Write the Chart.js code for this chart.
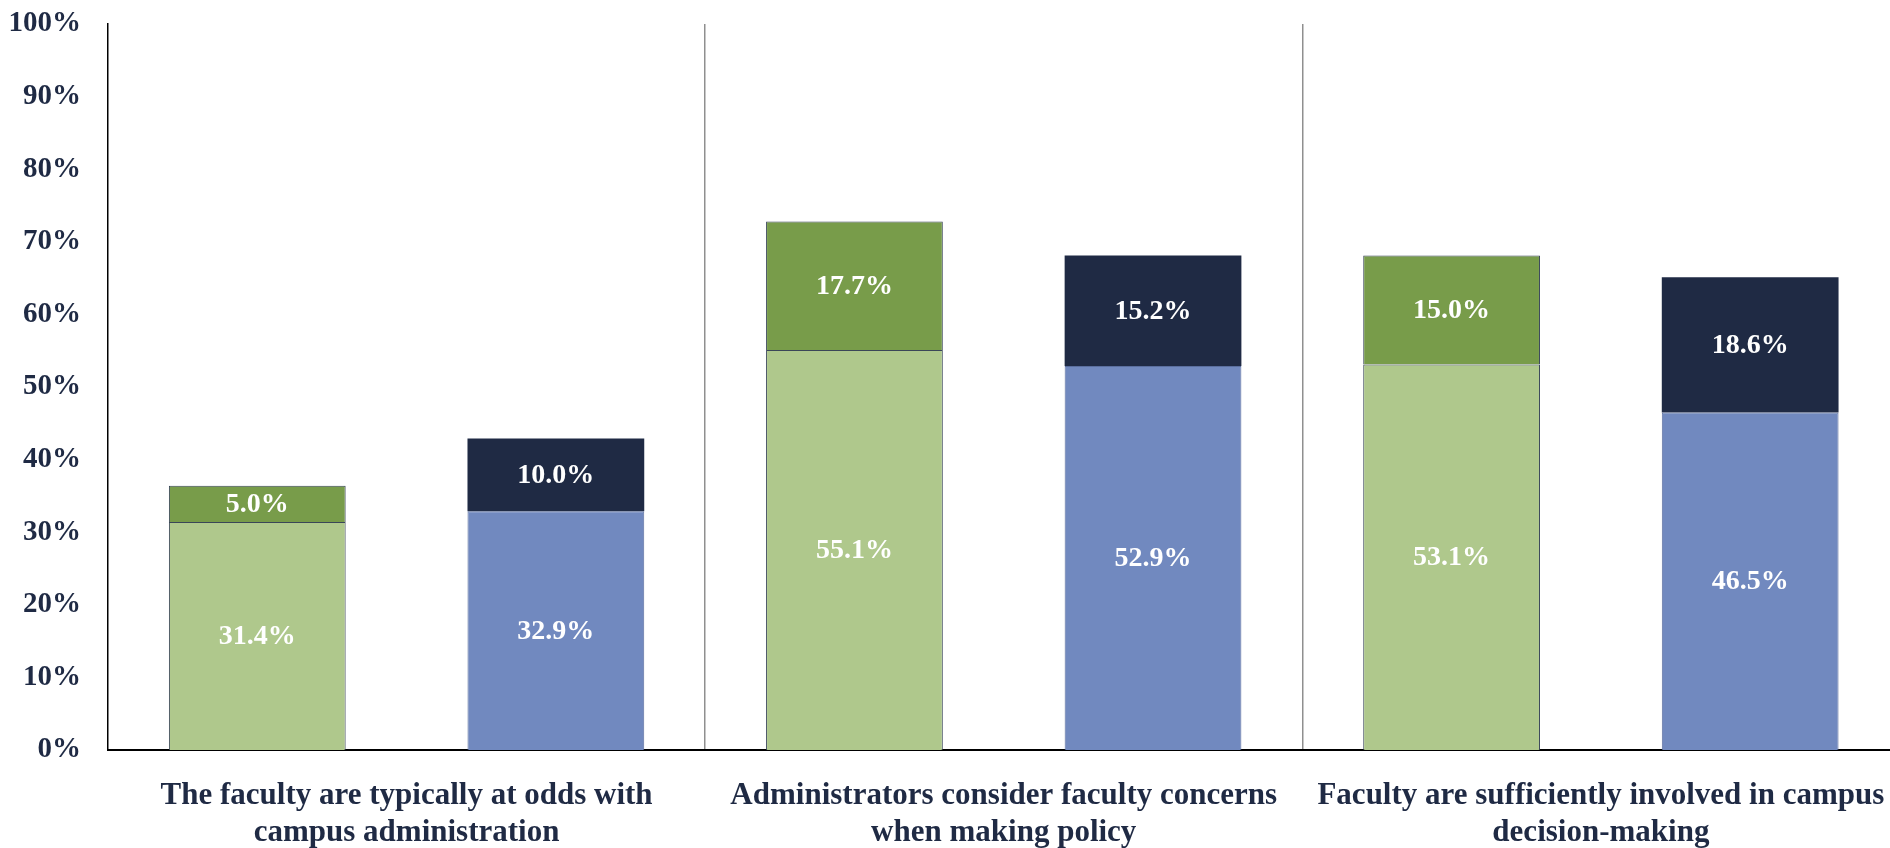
<!DOCTYPE html>
<html>
<head>
<meta charset="utf-8">
<script src="https://cdn.jsdelivr.net/npm/chart.js@4"></script>
<style>
html,body{margin:0;padding:0;background:#fff;overflow:hidden;}
#wrap{width:1890px;height:848px;overflow:hidden;position:relative;}
canvas{display:block;}
</style>
</head>
<body>
<div id="wrap"><canvas id="c" width="1912" height="848"></canvas></div>
<script>
const categories = [
  ["The faculty are typically at odds with", "campus administration"],
  ["Administrators consider faculty concerns", "when making policy"],
  ["Faculty are sufficiently involved in campus", "decision-making"]
];
const greenBase = [31.4, 55.1, 53.1];
const greenTop = [5.0, 17.7, 15.0];
const blueBase = [32.9, 52.9, 46.5];
const blueTop = [10.0, 15.2, 18.6];
const yTicks = [0, 10, 20, 30, 40, 50, 60, 70, 80, 90, 100];

const FONT = "'Liberation Serif', 'DejaVu Serif', serif";
const NAVY = '#1f2a44';

const labelPlugin = {
  id: 'segLabels',
  afterDatasetsDraw(chart) {
    const ctx = chart.ctx;
    ctx.save();
    ctx.fillStyle = '#ffffff';
    ctx.font = 'bold 28px ' + FONT;
    ctx.textAlign = 'center';
    ctx.textBaseline = 'middle';
    chart.data.datasets.forEach((ds, i) => {
      const meta = chart.getDatasetMeta(i);
      meta.data.forEach((el, j) => {
        const v = ds.data[j];
        const y = (el.y + el.base) / 2;
        ctx.fillText(v.toFixed(1) + '%', el.x, y + 1);
      });
    });
    ctx.restore();
  }
};

new Chart(document.getElementById('c'), {
  type: 'bar',
  data: {
    labels: categories,
    datasets: [
      { data: greenBase, stack: 'g', backgroundColor: '#afc88c', borderColor: '#3a4658', borderWidth: 1 },
      { data: blueBase, stack: 'b', backgroundColor: '#7189bf', borderColor: '#5a6e9e', borderWidth: 1 },
      { data: greenTop, stack: 'g', backgroundColor: '#789c4a', borderColor: '#3a4658', borderWidth: 1 },
      { data: blueTop, stack: 'b', backgroundColor: '#1f2a44', borderColor: '#1f2a44', borderWidth: 0 }
    ]
  },
  options: {
    responsive: false,
    animation: false,
    devicePixelRatio: 1,
    layout: { padding: { top: 24, right: 4, bottom: 0, left: 0 } },
    datasets: { bar: { categoryPercentage: 1.0, barPercentage: 0.592 } },
    plugins: { legend: { display: false }, tooltip: { enabled: false } },
    scales: {
      x: {
        stacked: true,
        offset: true,
        grid: {
          display: true,
          offset: true,
          drawTicks: false,
          color: (c) => c.index === 0 ? 'rgba(0,0,0,0)' : '#8f8f8f',
          lineWidth: 1.5
        },
        border: { display: true, color: '#000000', width: 2 },
        ticks: {
          color: NAVY,
          font: { family: FONT, size: 31, weight: 'bold', lineHeight: 1.2 },
          padding: 27,
          maxRotation: 0,
          autoSkip: false
        },
        afterFit: (s) => { s.height = 98; }
      },
      y: {
        stacked: true,
        min: 0,
        max: 100,
        afterBuildTicks: (s) => { s.ticks = yTicks.map(v => ({ value: v })); },
        grid: { display: false, drawTicks: false },
        border: { display: true, color: '#000000', width: 1.5 },
        ticks: {
          color: NAVY,
          font: { family: FONT, size: 29, weight: 'bold' },
          padding: 27,
          callback: (v) => v + '%'
        },
        afterFit: (s) => { s.width = 108; s.paddingTop = 0; s.paddingBottom = 0; }
      }
    }
  },
  plugins: [labelPlugin]
});
</script>
</body>
</html>
